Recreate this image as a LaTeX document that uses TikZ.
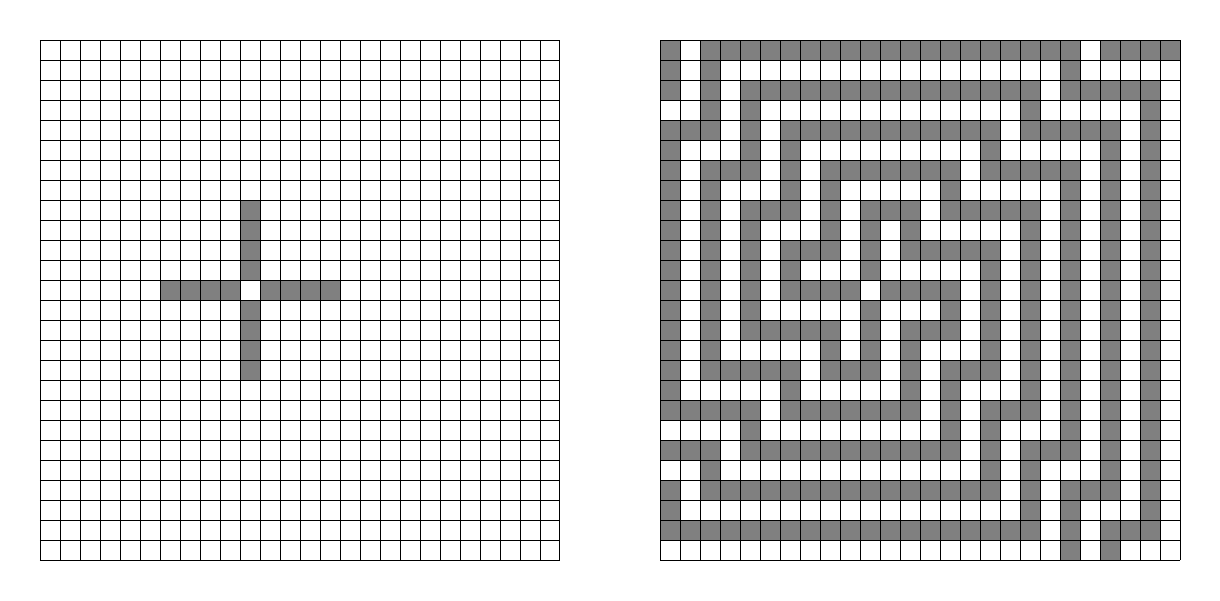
\documentclass[tikz,border=0pt]{standalone}
\usepackage{xcolor}
\usepackage{tikz}
\usetikzlibrary{positioning}

\tikzset{
  wall/.style={fill=black!50},
  gridline/.style={line width=0.7pt, black}
}

\begin{document}
\begin{tikzpicture}[x=0.5cm, y=0.5cm]
\useasboundingbox (-2,2) rectangle (59,-28);
% left board: cross
\foreach \c/\r in {10/8,10/9,10/10,10/11,10/13,10/14,10/15,10/16,
                   6/12,7/12,8/12,9/12,11/12,12/12,13/12,14/12}
  \fill[wall] (\c,-\r) rectangle ++(1,-1);
\draw[gridline] (0,0) grid[step=1] (26,-26);
% right board: maze, gray runs per row (first/last column)
\begin{scope}[xshift=15.5cm]
\foreach \r/\runs in {
  0/{0/0,2/20,22/25},
  1/{0/0,2/2,20/20},
  2/{0/0,2/2,4/18,20/24},
  3/{2/2,4/4,18/18,24/24},
  4/{0/2,4/4,6/16,18/22,24/24},
  5/{0/0,4/4,6/6,16/16,22/22,24/24},
  6/{0/0,2/4,6/6,8/14,16/20,22/22,24/24},
  7/{0/0,2/2,6/6,8/8,14/14,20/20,22/22,24/24},
  8/{0/0,2/2,4/6,8/8,10/12,14/18,20/20,22/22,24/24},
  9/{0/0,2/2,4/4,8/8,10/10,12/12,18/18,20/20,22/22,24/24},
  10/{0/0,2/2,4/4,6/8,10/10,12/16,18/18,20/20,22/22,24/24},
  11/{0/0,2/2,4/4,6/6,10/10,16/16,18/18,20/20,22/22,24/24},
  12/{0/0,2/2,4/4,6/9,11/14,16/16,18/18,20/20,22/22,24/24},
  13/{0/0,2/2,4/4,10/10,14/14,16/16,18/18,20/20,22/22,24/24},
  14/{0/0,2/2,4/8,10/10,12/14,16/16,18/18,20/20,22/22,24/24},
  15/{0/0,2/2,8/8,10/10,12/12,16/16,18/18,20/20,22/22,24/24},
  16/{0/0,2/6,8/10,12/12,14/16,18/18,20/20,22/22,24/24},
  17/{0/0,6/6,12/12,14/14,18/18,20/20,22/22,24/24},
  18/{0/4,6/12,14/14,16/18,20/20,22/22,24/24},
  19/{4/4,14/14,16/16,20/20,22/22,24/24},
  20/{0/2,4/14,16/16,18/20,22/22,24/24},
  21/{2/2,16/16,18/18,22/22,24/24},
  22/{0/0,2/16,18/18,20/22,24/24},
  23/{0/0,18/18,20/20,24/24},
  24/{0/18,20/20,22/24},
  25/{20/20,22/22}}
  \foreach \a/\b in \runs
    \fill[wall] (\a,-\r) rectangle (\b+1,-\r-1);
\draw[gridline] (0,0) grid[step=1] (26,-26);
\end{scope}
\end{tikzpicture}
\end{document}
